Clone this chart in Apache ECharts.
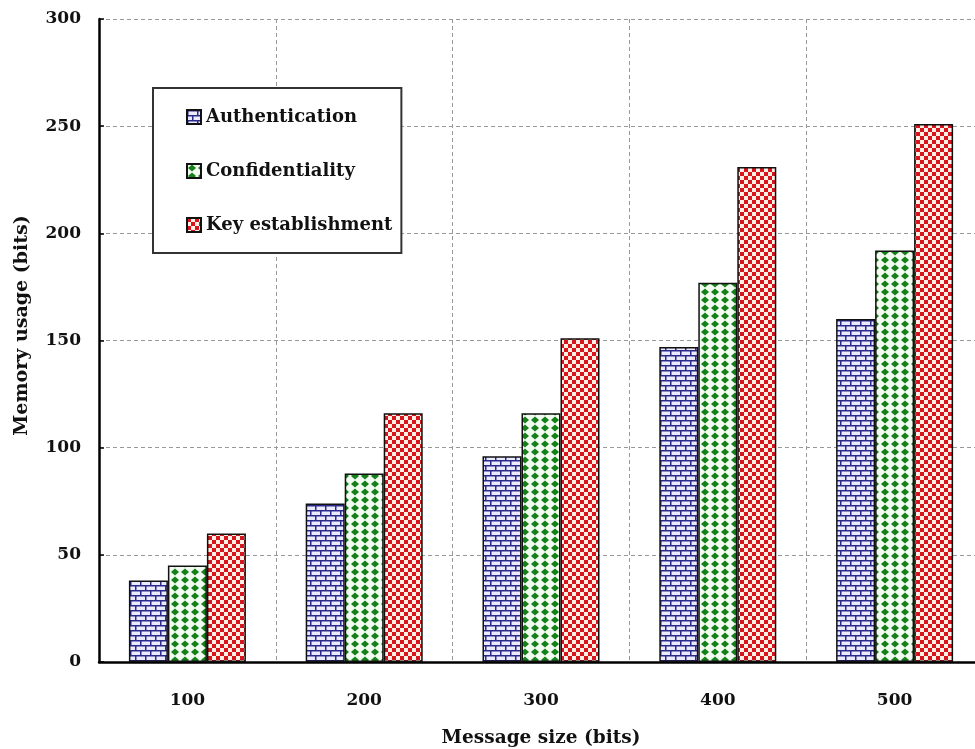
<!DOCTYPE html>
<html>
<head>
<meta charset="utf-8">
<script src="https://cdn.jsdelivr.net/npm/echarts@6/dist/echarts.min.js"></script>
<style>
  html, body { margin: 0; padding: 0; background: #fff; }
  #chart { width: 975px; height: 749px; }
</style>
</head>
<body>
<div id="chart"></div>
<script>
var categories = ["100", "200", "300", "400", "500"];
var authentication = [38, 74, 96, 147, 160];
var confidentiality = [45, 88, 116, 177, 192];
var keyEstablishment = [60, 116, 151, 231, 251];
var yTicks = [0, 50, 100, 150, 200, 250, 300];

var font = "DejaVu Serif";
var textColor = "#111";

function tile(w, h, draw) {
  var c = document.createElement("canvas");
  c.width = w;
  c.height = h;
  draw(c.getContext("2d"));
  return c;
}

// brick pattern
var brick = tile(10, 10, function (ctx) {
  ctx.fillStyle = "#eceaff";
  ctx.fillRect(0, 0, 10, 10);
  ctx.fillStyle = "#2a2a8a";
  ctx.fillRect(0, 0, 10, 1.5);
  ctx.fillRect(0, 5, 10, 1.5);
  ctx.fillRect(0, 0, 1.5, 5);
  ctx.fillRect(5, 5, 1.5, 5);
});

// green diamonds
var diamonds = tile(10, 8, function (ctx) {
  ctx.fillStyle = "#f2fbef";
  ctx.fillRect(0, 0, 10, 8);
  ctx.fillStyle = "#14801a";
  ctx.beginPath();
  ctx.moveTo(5, 0.5);
  ctx.lineTo(9, 4);
  ctx.lineTo(5, 7.5);
  ctx.lineTo(1, 4);
  ctx.closePath();
  ctx.fill();
});

// red checkerboard
var checks = tile(8, 8, function (ctx) {
  ctx.fillStyle = "#fff0e6";
  ctx.fillRect(0, 0, 8, 8);
  ctx.fillStyle = "#d8141c";
  ctx.fillRect(0, 0, 4, 4);
  ctx.fillRect(4, 4, 4, 4);
});

function pattern(c) {
  return { image: c, repeat: "repeat" };
}

function barSeries(name, data, img) {
  return {
    name: name,
    type: "bar",
    data: data,
    barWidth: 39,
    barGap: "0%",
    itemStyle: {
      color: pattern(img),
      borderColor: "#111",
      borderWidth: 1.5
    }
  };
}

function text(size) {
  return { fontFamily: font, fontWeight: "bold", fontSize: size, color: textColor };
}

var chart = echarts.init(document.getElementById("chart"));

chart.setOption({
  backgroundColor: "#ffffff",
  animation: false,
  grid: {
    left: 99,
    top: 19,
    bottom: 87,
    width: 884,
    containLabel: false,
    outerBoundsMode: "none"
  },
  legend: {
    orient: "vertical",
    left: 153,
    top: 88,
    icon: "rect",
    itemWidth: 14,
    itemHeight: 14,
    itemGap: 36,
    padding: [20, 9, 19, 33],
    backgroundColor: "#fff",
    borderColor: "#333",
    borderWidth: 2,
    textStyle: text(18),
    data: ["Authentication", "Confidentiality", "Key establishment"]
  },
  xAxis: {
    type: "category",
    data: categories,
    name: "Message size (bits)",
    nameLocation: "middle",
    nameGap: 67,
    nameTextStyle: text(18.5),
    axisLine: { lineStyle: { color: "#000", width: 2.5 } },
    axisTick: { inside: true, length: 6, lineStyle: { color: "#000", width: 1.5 } },
    axisLabel: Object.assign({ margin: 30 }, text(17)),
    splitLine: { show: true, lineStyle: { color: "#999", type: [4, 3], width: 1 } }
  },
  yAxis: {
    type: "value",
    min: yTicks[0],
    max: yTicks[yTicks.length - 1],
    interval: 50,
    name: "Memory usage (bits)",
    nameLocation: "middle",
    nameGap: 67,
    nameTextStyle: Object.assign({ padding: [0, 0, 0, 30] }, text(19)),
    axisLine: { show: true, lineStyle: { color: "#000", width: 2.5 } },
    axisTick: { show: true, inside: true, length: 5, lineStyle: { color: "#000", width: 1.5 } },
    axisLabel: Object.assign({ margin: 18 }, text(17)),
    splitLine: { show: true, lineStyle: { color: "#999", type: [4, 3], width: 1 } }
  },
  series: [
    barSeries("Authentication", authentication, brick),
    barSeries("Confidentiality", confidentiality, diamonds),
    barSeries("Key establishment", keyEstablishment, checks)
  ]
});
</script>
</body>
</html>
